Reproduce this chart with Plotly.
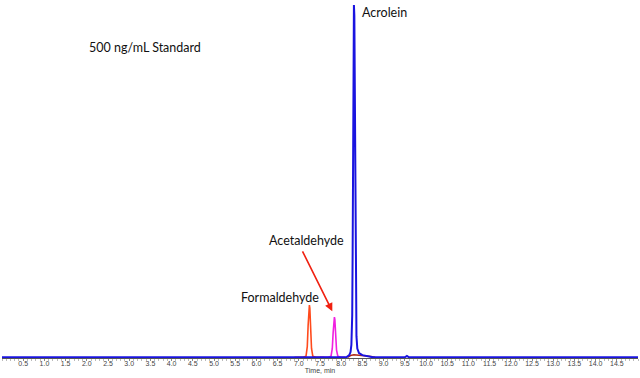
import plotly.graph_objects as go

# Formaldehyde trace (time, min ; relative intensity)
form_t = [6.90, 7.10, 7.17, 7.20, 7.22, 7.24, 7.25, 7.26, 7.28, 7.30, 7.33, 7.40, 7.60]
form_y = [0.0, 0.0, 0.3, 3.0, 9.0, 14.0, 14.8, 14.0, 8.0, 2.5, 0.3, 0.0, 0.0]

# Acetaldehyde trace
acet_t = [7.50, 7.70, 7.76, 7.79, 7.81, 7.83, 7.84, 7.85, 7.87, 7.89, 7.92, 8.00, 8.10]
acet_y = [0.0, 0.0, 0.3, 2.5, 7.0, 10.8, 11.4, 10.8, 6.5, 2.0, 0.3, 0.0, 0.0]

# Acrolein trace (whole run baseline)
acro_t = [0.0, 8.12, 8.19, 8.22, 8.24, 8.26, 8.27, 8.28, 8.29, 8.30, 8.31, 8.32, 8.33, 8.34, 8.36, 8.38, 8.42, 8.50, 8.60, 8.75, 9.50, 9.55, 9.60, 15.0]
acro_y = [0.0, 0.0, 0.6, 1.5, 3.5, 12.0, 30.0, 60.0, 88.0, 100.0, 97.0, 75.0, 45.0, 22.0, 6.0, 2.5, 1.2, 0.6, 0.3, 0.0, 0.0, 0.4, 0.0, 0.0]

# Minor background trace under Acrolein
bg_t = [8.15, 8.22, 8.30, 8.45, 8.60, 8.70, 8.80]
bg_y = [0.0, 0.5, 0.7, 0.6, 0.4, 0.2, 0.0]

tick_vals = [0.5 * i for i in range(1, 30)]
tick_text = [f"{v:.1f}" for v in tick_vals]

fig = go.Figure()
fig.add_trace(go.Scatter(x=bg_t, y=bg_y, mode="lines",
                         line=dict(color="#B02818", width=1.5)))
fig.add_trace(go.Scatter(x=form_t, y=form_y, mode="lines",
                         line=dict(color="#FF4A1C", width=1.6)))
fig.add_trace(go.Scatter(x=acet_t, y=acet_y, mode="lines",
                         line=dict(color="#F020E0", width=1.6)))
fig.add_trace(go.Scatter(x=acro_t, y=acro_y, mode="lines",
                         line=dict(color="#1A14E0", width=2)))

tf = dict(family="Lato, Liberation Sans, sans-serif", size=12.5, color="#111111")
fig.add_annotation(x=8.45, y=97.9, xref="x", yref="y", text="Acrolein",
                   showarrow=False, xanchor="left", yanchor="middle", font=tf)
fig.add_annotation(x=2.0, y=88.0, xref="x", yref="y", text="500 ng/mL Standard",
                   showarrow=False, xanchor="left", yanchor="middle", font=tf)
fig.add_annotation(x=5.58, y=16.9, xref="x", yref="y", text="Formaldehyde",
                   showarrow=False, xanchor="left", yanchor="middle", font=tf)
fig.add_annotation(x=6.25, y=33.2, xref="x", yref="y", text="Acetaldehyde",
                   showarrow=False, xanchor="left", yanchor="middle", font=tf)
fig.add_annotation(x=7.79, y=13.1, xref="x", yref="y", ax=7.07, ay=30.5,
                   axref="x", ayref="y", text="", showarrow=True,
                   arrowhead=2, arrowsize=1, arrowwidth=1.6, arrowcolor="#F02010")

fig.update_layout(
    width=640, height=378,
    margin=dict(l=2, r=2, t=0, b=20),
    paper_bgcolor="white", plot_bgcolor="white",
    showlegend=False,
    xaxis=dict(range=[0, 15], tickvals=tick_vals, ticktext=tick_text,
               showgrid=False, zeroline=False, showline=True,
               linecolor="#555555", linewidth=1,
               ticks="outside", ticklen=2, tickcolor="#888888",
               ticklabelstandoff=-3,
               minor=dict(ticks="outside", ticklen=2, dtick=0.1, tickcolor="#BBBBBB"),
               tickfont=dict(family="Liberation Sans, sans-serif", size=7, color="#444444"),
               title=dict(text="Time, min", standoff=0,
                          font=dict(family="Liberation Sans, sans-serif", size=7, color="#444444"))),
    yaxis=dict(range=[-0.2, 101.4], visible=False, showgrid=False, zeroline=False),
)

fig.write_html("out.html", config={"displayModeBar": False},
               post_script="document.body.style.margin='0';document.body.style.padding='0';")
